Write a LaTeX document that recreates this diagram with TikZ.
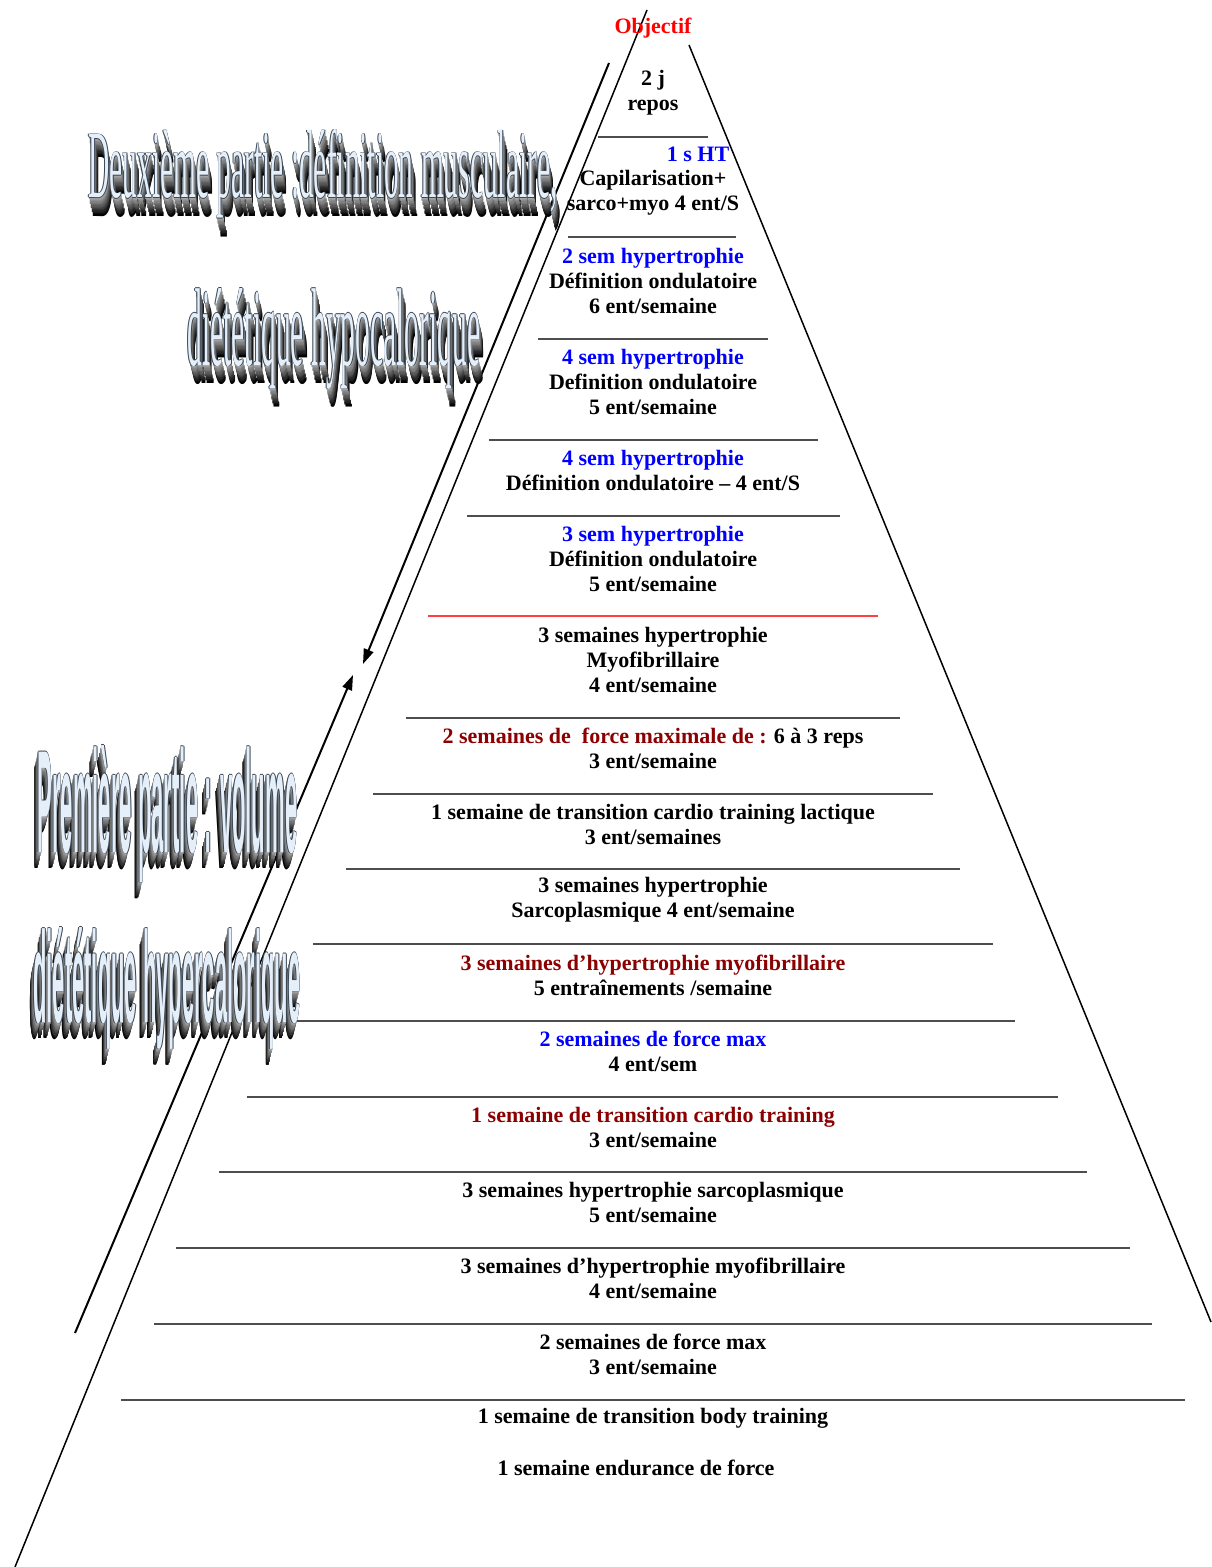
\documentclass[tikz,border=0pt]{standalone}
\usepackage{fontspec}
\setmainfont{Liberation Serif}
\newfontfamily\artsans{Liberation Sans}
\usepackage{xcolor}
\usepackage{graphicx}
\usepackage{tikz}
\usetikzlibrary{calc,positioning,arrows.meta}
\definecolor{figRed}{HTML}{FF0000}
\definecolor{figBlue}{HTML}{0000FF}
\definecolor{figMaroon}{HTML}{8B0000}
\definecolor{figRule}{HTML}{4D4D4D}
\definecolor{figFace}{HTML}{E4EFF9}
\definecolor{figEdge}{HTML}{3A4654}

% extruded title: name, base-left point, width, height, font, text, step
\newcommand{\relief}[7]{%
  \foreach \k in {14,...,1}{%
    \pgfmathtruncatemacro{\tone}{30+5*\k}%
    \node[art, text=black!\tone!white] (#1-\k) at ($(#2)+\k*(#7)$) {\resizebox{#3}{#4}{#5#6}};
  }
  \foreach \ox/\oy [count=\i] in {-0.6/0,0.6/0,0/-0.6,0/0.6}{%
    \node[art, text=figEdge] (#1-e\i) at ($(#2)+(\ox,\oy)$) {\resizebox{#3}{#4}{#5#6}};
  }
  \node[art, text=figFace] (#1) at (#2) {\resizebox{#3}{#4}{#5#6}};
}

\begin{document}
\begin{tikzpicture}[
  x=0.5pt, y=-0.5pt,
  lvl/.style={align=center, inner sep=0pt, font=\fontsize{11}{12.5}\selectfont\bfseries},
  rule/.style={figRule, line width=0.7pt},
  side/.style={black, line width=0.75pt},
  arrow/.style={-{Triangle[length=7.5pt,width=5pt]}, black, line width=1pt},
  art/.style={anchor=base west, inner sep=0pt},
]
\useasboundingbox (0,0) rectangle (1211,1567);

% Pyramid sides
\coordinate (apexL) at (647,10);
\coordinate (baseL) at (15,1567);
\coordinate (apexR) at (689,45);
\coordinate (baseR) at (1211,1322);
\draw[side] (apexL) -- (baseL);
\draw[side] (apexR) -- (baseR);

% Level separators
\foreach \y/\xa/\xb in {137/598/708, 237/568/736, 339/538/768, 440/489/818,
    516/467/840, 718/406/900, 794/373/933, 869/346/960, 944/313/993,
    1021/290/1015, 1097/247/1058, 1172/219/1087, 1248/176/1130,
    1324/154/1152, 1400/121/1185}
  \draw[rule] (\xa,\y) -- (\xb,\y);
\draw[rule, figRed!75] (428,616) -- (878,616);

% Levels, top to bottom
\node[lvl, text=figRed] (goal) at (653,28) {Objectif};
\node[lvl] (rest) at (653,93) {2 j\\repos};
\node[lvl, text=figBlue] (ht) at (698,154) {1 s HT};
\node[lvl] (capil) at (653,193) {Capilarisation+\\sarco+myo 4 ent/S};
\node[lvl] (def6) at (653,281) {\textcolor{figBlue}{2 sem hypertrophie}\\Définition ondulatoire\\6 ent/semaine};
\node[lvl] (def5a) at (653,382) {\textcolor{figBlue}{4 sem hypertrophie}\\Definition ondulatoire\\5 ent/semaine};
\node[lvl] (def4) at (653,470) {\textcolor{figBlue}{4 sem hypertrophie}\\Définition ondulatoire -- 4 ent/S};
\node[lvl] (def5b) at (653,559) {\textcolor{figBlue}{3 sem hypertrophie}\\Définition ondulatoire\\5 ent/semaine};
\node[lvl] (myo3) at (653,660) {3 semaines hypertrophie\\Myofibrillaire\\4 ent/semaine};
\node[lvl] (force2) at (653,748) {\textcolor{figMaroon}{2 semaines de~ force maximale de :} 6 à 3 reps\\3 ent/semaine};
\node[lvl] (lactic) at (653,824) {1 semaine de transition cardio training lactique\\3 ent/semaines};
\node[lvl] (sarco3) at (653,900) {3 semaines hypertrophie\\Sarcoplasmique 4 ent/semaine};
\node[lvl] (myo5) at (653,975) {\textcolor{figMaroon}{3 semaines d’hypertrophie myofibrillaire}\\5 entraînements /semaine};
\node[lvl] (force4) at (653,1051) {\textcolor{figBlue}{2 semaines de force max}\\4 ent/sem};
\node[lvl] (cardio) at (653,1127) {\textcolor{figMaroon}{1 semaine de transition cardio training}\\3 ent/semaine};
\node[lvl] (sarco5) at (653,1202) {3 semaines hypertrophie sarcoplasmique\\5 ent/semaine};
\node[lvl] (myo4) at (653,1278) {3 semaines d’hypertrophie myofibrillaire\\4 ent/semaine};
\node[lvl] (force3) at (653,1354) {2 semaines de force max\\3 ent/semaine};
\node[lvl] (body) at (653,1418) {1 semaine de transition body training};
\node[lvl] (endur) at (636,1468) {1 semaine endurance de force};

% Phase arrows
\coordinate (downTop) at (609,63);
\coordinate (downTip) at (363,664);
\coordinate (upFoot) at (75,1333);
\coordinate (upTip) at (353,675);
\draw[arrow] (downTop) -- (downTip);
\draw[arrow] (upFoot) -- (upTip);

% Phase titles
\relief{cut}{88,198}{234.5pt}{34pt}{\rmfamily}{Deuxième partie :définition musculaire,}{0.3,1.3}
\relief{hypo}{187,365}{146.5pt}{38.5pt}{\rmfamily}{diététique hypocalorique}{0.3,1.3}
\relief{bulk}{37,852}{130pt}{53.5pt}{\artsans\bfseries}{Première partie : volume}{-0.3,1.2}
\relief{hyper}{33,1022}{133.5pt}{47.5pt}{\artsans\bfseries}{diététique hypercalorique}{-0.3,1.2}
\end{tikzpicture}
\end{document}
